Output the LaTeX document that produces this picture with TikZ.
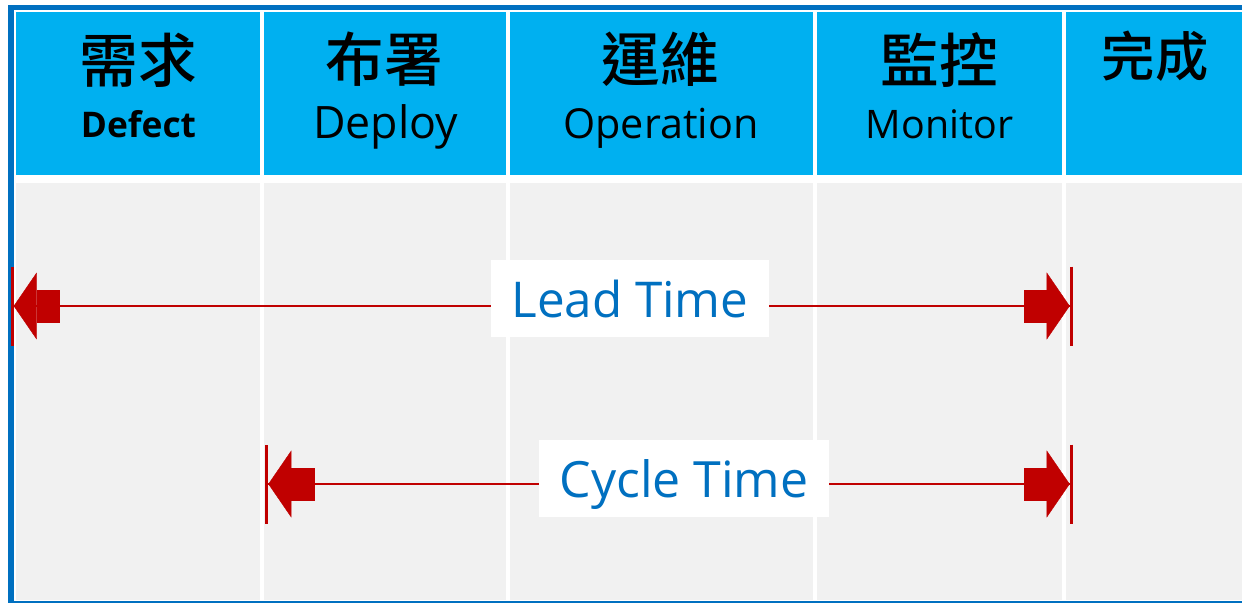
\documentclass[tikz,border=0pt]{standalone}
\usepackage{fontspec}
\setmainfont{Open Sans}
\newfontfamily\cjk{Noto Sans CJK TC}[BoldFont={Noto Sans CJK TC Medium}]
\usepackage{xcolor}
\usetikzlibrary{arrows.meta, positioning}

\definecolor{hdrblue}{HTML}{00B0F0}
\definecolor{edgeblue}{HTML}{0070C0}
\definecolor{bodygray}{HTML}{F1F1F1}
\definecolor{arrred}{HTML}{C00000}
\definecolor{tagblue}{HTML}{0070C0}

\begin{document}
\begin{tikzpicture}[
  x = 0.75pt, y = -0.75pt,
  zh/.style   = {font=\cjk\bfseries\fontsize{44}{48}\selectfont, inner sep=0pt},
  en/.style   = {anchor=base, inner sep=0pt},
  tag/.style  = {rectangle, fill=white, text=tagblue, minimum height=57.75pt,
                 text depth=0pt, font=\fontsize{37}{40}\selectfont},
  span/.style = {draw=arrred, fill=arrred, line width=1.1pt,
                 {Bar[width=59.25pt, line width=2.25pt]
                  Triangle[length=17.25pt, width=50.25pt, line width=0.3pt]
                  Rectangle[length=17.25pt, width=24.75pt, line width=0.3pt]}-{%
                  Rectangle[length=17.25pt, width=24.75pt, line width=0.3pt]
                  Triangle[length=17.25pt, width=50.25pt, line width=0.3pt]
                  Bar[width=59.25pt, line width=2.25pt]}},
]
\useasboundingbox (0,0) rectangle (1242,603);

% frame
\fill[edgeblue] (8,5)   rectangle (1242,10);
\fill[edgeblue] (8,5)   rectangle (14,603);
\fill[edgeblue] (8,601) rectangle (1242,603);

% header row
\fill[hdrblue] (16,12)   rectangle (260,175);
\fill[hdrblue] (264,12)  rectangle (506,175);
\fill[hdrblue] (510,12)  rectangle (813,175);
\fill[hdrblue] (817,12)  rectangle (1062,175);
\fill[hdrblue] (1066,12) rectangle (1242,175);

% body row
\fill[bodygray] (16,183)   rectangle (260,600);
\fill[bodygray] (264,183)  rectangle (506,600);
\fill[bodygray] (510,183)  rectangle (813,600);
\fill[bodygray] (817,183)  rectangle (1062,600);
\fill[bodygray] (1066,183) rectangle (1242,600);

\node[zh] (req) at (138,60) {需求};
\node[en, font=\bfseries\fontsize{26.5}{30}\selectfont] (reqen) at (138.5,137) {Defect};
\node[zh] (dep) at (384,59) {布署};
\node[en, font=\fontsize{33.5}{37}\selectfont] (depen) at (385.5,138.3) {Deploy};
\node[zh] (ops) at (660,59) {運維};
\node[en, font=\fontsize{31}{35}\selectfont] (opsen) at (661,138.3) {Operation};
\node[zh] (mon) at (939,60) {監控};
\node[en, font=\fontsize{29.5}{33}\selectfont] (monen) at (939.5,138.3) {Monitor};
\node[zh, font=\cjk\bfseries\fontsize{40}{44}\selectfont] (done) at (1155,56) {完成};

% lead time
\coordinate (leadL) at (10.7,306);
\coordinate (leadR) at (1072.7,306);
\draw[span] (leadL) -- (leadR);
\node[tag, minimum width=208.5pt] (lead) at (630,298.5) {Lead Time};

% cycle time
\coordinate (cycL) at (265.3,484);
\coordinate (cycR) at (1072.7,484);
\draw[span] (cycL) -- (cycR);
\node[tag, minimum width=217.5pt, font=\fontsize{37.5}{40}\selectfont] (cycle) at (684,478.5) {Cycle Time};

\end{tikzpicture}
\end{document}
